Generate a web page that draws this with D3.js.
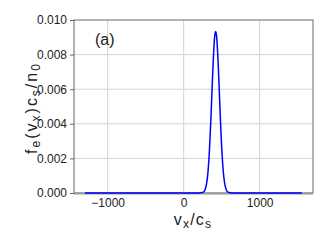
<!DOCTYPE html>
<html>
<head>
<meta charset="utf-8">
<script src="https://cdn.jsdelivr.net/npm/d3@7"></script>
<style>
  body { margin: 0; background: #fff; }
  text { font-family: "Liberation Sans", Arial, sans-serif; fill: #222; }
</style>
</head>
<body>
<div id="chart"></div>
<script>
// velocity v_x/c_s
var vx = [-1300, 200, 260, 280, 300, 320, 340, 360, 380, 390, 405, 413, 421,
          429, 437, 452, 462, 472, 482, 492, 502, 512, 522, 532, 542, 552,
          562, 582, 640, 1556];
// f_e(v_x) c_s / n_0
var fe = [0, 0, 0.00005, 0.000175, 0.0005, 0.00121, 0.00252, 0.00444, 0.00668,
          0.0077, 0.00888, 0.00922, 0.00934,
          0.00922, 0.00888, 0.0077, 0.00668, 0.00555, 0.00444, 0.0034, 0.00252,
          0.00178, 0.00121, 0.0008, 0.0005, 0.0003,
          0.000175, 0.00005, 0, 0];
var xTicks = [-1000, 0, 1000];
var yTicks = [0, 0.002, 0.004, 0.006, 0.008, 0.010];

var margin = { top: 20, right: 19, bottom: 57, left: 74 },
    W = 332, H = 250,
    width = W - margin.left - margin.right,
    height = H - margin.top - margin.bottom;

var svg = d3.select("#chart").append("svg")
    .attr("width", W).attr("height", H);
var g = svg.append("g")
    .attr("transform", "translate(" + margin.left + "," + margin.top + ")");

var x = d3.scaleLinear().domain([-1443, 1702]).range([0, width]);
var y = d3.scaleLinear().domain([0, 0.010]).range([height, 0]);

// grid
g.selectAll(".gx").data(xTicks).enter().append("line")
    .attr("x1", d => x(d)).attr("x2", d => x(d))
    .attr("y1", 0).attr("y2", height)
    .attr("stroke", "#d4d4d4").attr("stroke-width", 1);
g.selectAll(".gy").data(yTicks.slice(1, -1)).enter().append("line")
    .attr("x1", 0).attr("x2", width)
    .attr("y1", d => y(d)).attr("y2", d => y(d))
    .attr("stroke", "#d4d4d4").attr("stroke-width", 1);

// frame
g.append("rect").attr("x", 0).attr("y", 0)
    .attr("width", width).attr("height", height)
    .attr("fill", "none").attr("stroke", "#666").attr("stroke-width", 1);
g.append("line").attr("x1", 0).attr("x2", width)
    .attr("y1", height + 0.5).attr("y2", height + 0.5)
    .attr("stroke", "#999").attr("stroke-width", 2);

// axes
var yAxis = g.append("g")
    .call(d3.axisLeft(y).tickValues(yTicks).tickFormat(d3.format(".3f")).tickSizeOuter(0).tickSize(4));
yAxis.select(".domain").remove();
yAxis.selectAll("line").attr("stroke", "#666");
yAxis.selectAll("text").attr("font-size", 12).attr("fill", "#222")
    .attr("font-family", "Liberation Sans, Arial, sans-serif");

var xAxis = g.append("g").attr("transform", "translate(0," + height + ")")
    .call(d3.axisBottom(x).tickValues(xTicks).tickFormat(d => d < 0 ? "\u2212" + Math.abs(d) : d).tickSize(0).tickPadding(5));
xAxis.select(".domain").remove();
xAxis.selectAll("text").attr("font-size", 12).attr("fill", "#222")
    .attr("font-family", "Liberation Sans, Arial, sans-serif");

// curve
g.append("path")
    .datum(vx.map((v, i) => [v, fe[i]]))
    .attr("fill", "none").attr("stroke", "#0000ff").attr("stroke-width", 1.5)
    .attr("d", d3.line().x(d => x(d[0])).y(d => y(d[1])).curve(d3.curveMonotoneX));

// labels
g.append("text").attr("x", 21).attr("y", 25).attr("font-size", 16).text("(a)");

var xl = svg.append("text").attr("x", 193).attr("y", 225)
    .attr("text-anchor", "middle").attr("font-size", 16).attr("letter-spacing", 1.2);
xl.append("tspan").text("v");
xl.append("tspan").attr("font-size", 12).attr("dy", 3).text("x");
xl.append("tspan").attr("dy", -3).text("/c");
xl.append("tspan").attr("font-size", 12).attr("dy", 3).text("s");

var yl = svg.append("text").attr("transform", "translate(37,108) rotate(-90)")
    .attr("text-anchor", "middle").attr("font-size", 16).attr("letter-spacing", 2);
yl.append("tspan").text("f");
yl.append("tspan").attr("font-size", 12).attr("dy", 3).text("e");
yl.append("tspan").attr("dy", -3).text("(v");
yl.append("tspan").attr("font-size", 12).attr("dy", 3).text("x");
yl.append("tspan").attr("dy", -3).text(")c");
yl.append("tspan").attr("font-size", 12).attr("dy", 3).text("s");
yl.append("tspan").attr("dy", -3).text("/n");
yl.append("tspan").attr("font-size", 12).attr("dy", 3).text("0");
</script>
</body>
</html>
